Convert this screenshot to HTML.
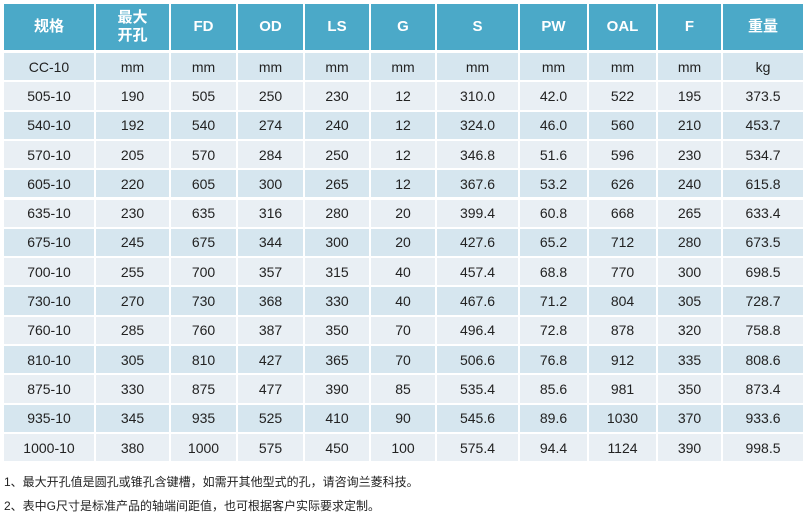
<!DOCTYPE html><html><head><meta charset="utf-8"><style>
body{margin:0;width:807px;height:521px;background:#fff;font-family:"Liberation Sans","Noto Sans CJK SC",sans-serif;overflow:hidden}
.c{position:absolute;display:flex;align-items:center;justify-content:center;font-size:14px;color:#222}
.h{background:#4ba9c8;color:#fff;font-weight:bold;font-size:15px;line-height:18px;text-align:center}
.n{position:absolute;left:4px;font-size:12px;color:#222}
</style></head><body><div id="t"></div>
<div class="n" style="top:473px">1、最大开孔值是圆孔或锥孔含键槽，如需开其他型式的孔，请咨询兰菱科技。</div>
<div class="n" style="top:497px">2、表中G尺寸是标准产品的轴端间距值，也可根据客户实际要求定制。</div>
<script>
var e=[4,95,170,237,304,370,436,519,588,657,722,804];
var H=["规格","最大<br>开孔","FD","OD","LS","G","S","PW","OAL","F","重量"];
var R=[["CC-10","mm","mm","mm","mm","mm","mm","mm","mm","mm","kg"],
["505-10",190,505,250,230,12,"310.0","42.0",522,195,"373.5"],
["540-10",192,540,274,240,12,"324.0","46.0",560,210,"453.7"],
["570-10",205,570,284,250,12,"346.8","51.6",596,230,"534.7"],
["605-10",220,605,300,265,12,"367.6","53.2",626,240,"615.8"],
["635-10",230,635,316,280,20,"399.4","60.8",668,265,"633.4"],
["675-10",245,675,344,300,20,"427.6","65.2",712,280,"673.5"],
["700-10",255,700,357,315,40,"457.4","68.8",770,300,"698.5"],
["730-10",270,730,368,330,40,"467.6","71.2",804,305,"728.7"],
["760-10",285,760,387,350,70,"496.4","72.8",878,320,"758.8"],
["810-10",305,810,427,365,70,"506.6","76.8",912,335,"808.6"],
["875-10",330,875,477,390,85,"535.4","85.6",981,350,"873.4"],
["935-10",345,935,525,410,90,"545.6","89.6",1030,370,"933.6"],
["1000-10",380,1000,575,450,100,"575.4","94.4",1124,390,"998.5"]];
var s="";
for(var i=0;i<11;i++){var x=e[i]+(i?1:0),w=e[i+1]-x-1;
s+='<div class="c h" style="left:'+x+'px;top:4px;width:'+w+'px;height:46px">'+H[i]+'</div>';
for(var r=0;r<14;r++){var y=53+r*29.3;s+='<div class="c" style="left:'+x+'px;top:'+y+'px;width:'+w+'px;height:27.3px;background:'+(r%2?'#e9eff4':'#d6e6ef')+'">'+R[r][i]+'</div>';}}
document.getElementById('t').innerHTML=s;
</script></body></html>
